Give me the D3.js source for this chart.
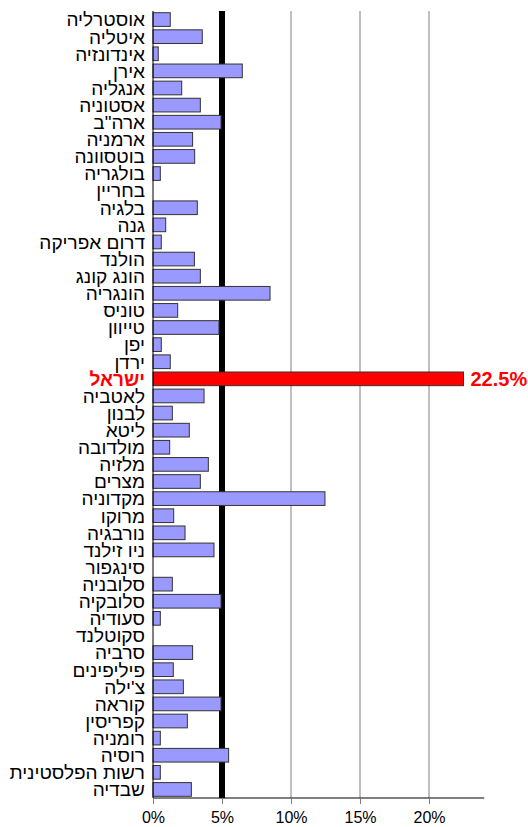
<!DOCTYPE html>
<html>
<head>
<meta charset="utf-8">
<script src="https://cdn.jsdelivr.net/npm/d3@7"></script>
<style>
  html, body { margin: 0; padding: 0; background: #fff; }
  svg { display: block; font-family: Arial, "Liberation Sans", sans-serif; }
</style>
</head>
<body>
<svg id="chart" width="528" height="827"></svg>
<script>
const countries = [
  'אוסטרליה', 'איטליה', 'אינדונזיה', 'אירן', 'אנגליה', 'אסטוניה', 'ארה"ב', 'ארמניה',
  'בוטסוונה', 'בולגריה', 'בחריין', 'בלגיה', 'גנה', 'דרום אפריקה', 'הולנד', 'הונג קונג',
  'הונגריה', 'טוניס', 'טייוון', 'יפן', 'ירדן', 'ישראל', 'לאטביה', 'לבנון', 'ליטא',
  'מולדובה', 'מלזיה', 'מצרים', 'מקדוניה', 'מרוקו', 'נורבגיה', 'ניו זילנד', 'סינגפור',
  'סלובניה', 'סלובקיה', 'סעודיה', 'סקוטלנד', 'סרביה', 'פיליפינים', "צ'ילה", 'קוראה',
  'קפריסין', 'רומניה', 'רוסיה', 'רשות הפלסטינית', 'שבדיה'
];
// percent values
const values = [
  1.25, 3.57, 0.38, 6.47, 2.08, 3.43, 4.93, 2.87,
  3.02, 0.53, 0, 3.21, 0.92, 0.6, 3.0, 3.43,
  8.48, 1.79, 4.78, 0.6, 1.25, 22.5, 3.7, 1.4, 2.63,
  1.21, 4.01, 3.43, 12.46, 1.5, 2.32, 4.42, 0,
  1.4, 4.93, 0.53, 0, 2.87, 1.47, 2.2, 4.93,
  2.49, 0.53, 5.48, 0.53, 2.78
];
const highlight = 'ישראל';
const xTicks = [0, 5, 10, 15, 20];
const refLine = 5;

const rows = countries.map((c, i) => ({ country: c, value: values[i] }));

const svg = d3.select('#chart');
const margin = { top: 11, left: 153, right: 44, bottom: 29 };
const height = 827;

const x = d3.scaleLinear().domain([0, 24]).range([margin.left, 484.2]);
const y = d3.scaleBand()
  .domain(countries)
  .range([margin.top, height - margin.bottom])
  .paddingInner(0.2)
  .paddingOuter(0.1);

const axisY = height - margin.bottom;

// grid lines
svg.append('g')
  .selectAll('line')
  .data(xTicks.filter((t) => t > refLine))
  .enter()
  .append('line')
  .attr('x1', (d) => x(d))
  .attr('x2', (d) => x(d))
  .attr('y1', margin.top)
  .attr('y2', axisY)
  .attr('stroke', '#808080')
  .attr('stroke-width', 1);

// thick reference line at 5%
svg.append('line')
  .attr('x1', x(refLine))
  .attr('x2', x(refLine))
  .attr('y1', margin.top)
  .attr('y2', axisY)
  .attr('stroke', '#000')
  .attr('stroke-width', 6);

// bars
svg.append('g')
  .selectAll('rect')
  .data(rows.filter((d) => d.value > 0))
  .enter()
  .append('rect')
  .attr('x', x(0))
  .attr('y', (d) => y(d.country))
  .attr('width', (d) => x(d.value) - x(0))
  .attr('height', y.bandwidth())
  .attr('fill', (d) => (d.country === highlight ? '#ff0000' : '#9999ff'))
  .attr('stroke', '#333')
  .attr('stroke-width', 1);

// x axis
const xAxis = d3.axisBottom(x)
  .tickValues(xTicks)
  .tickSize(6)
  .tickPadding(8)
  .tickFormat((d) => d + '%');

const gx = svg.append('g')
  .attr('transform', `translate(0,${axisY})`)
  .call(xAxis);
gx.select('.domain').attr('stroke', '#000').attr('d', `M${x(0)},0H${x.range()[1]}`);
gx.selectAll('.tick line').attr('stroke', '#808080');
gx.selectAll('.tick text')
  .attr('font-size', 16)
  .attr('font-family', 'Arial, "Liberation Sans", sans-serif')
  .attr('fill', '#000');

// y axis line
svg.append('line')
  .attr('x1', x(0))
  .attr('x2', x(0))
  .attr('y1', margin.top)
  .attr('y2', axisY)
  .attr('stroke', '#000')
  .attr('stroke-width', 1);

// category labels
svg.append('g')
  .selectAll('text')
  .data(rows)
  .enter()
  .append('text')
  .attr('x', x(0) - 8)
  .attr('y', (d) => y(d.country) + y.bandwidth() / 2)
  .attr('dy', '0.36em')
  .attr('text-anchor', 'end')
  .attr('font-size', 19)
  .attr('font-weight', (d) => (d.country === highlight ? 'bold' : 'normal'))
  .attr('fill', (d) => (d.country === highlight ? '#ff0000' : '#000'))
  .text((d) => d.country);

// value label for highlighted bar
const hl = rows.find((d) => d.country === highlight);
svg.append('text')
  .attr('x', x(hl.value) + 7)
  .attr('y', y(hl.country) + y.bandwidth() / 2)
  .attr('dy', '0.36em')
  .attr('font-size', 20)
  .attr('font-weight', 'bold')
  .attr('fill', '#ff0000')
  .text(hl.value + '%');
</script>
</body>
</html>
